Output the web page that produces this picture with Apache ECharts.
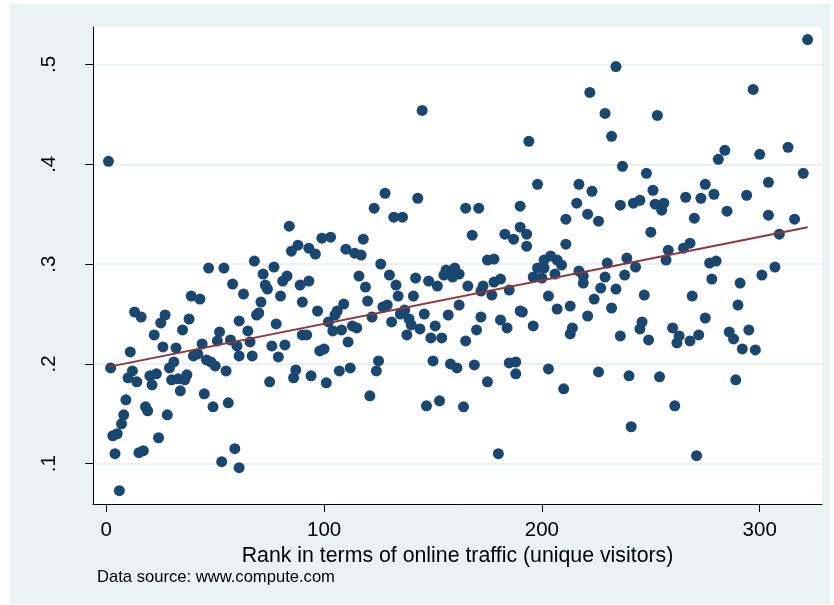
<!DOCTYPE html>
<html><head><meta charset="utf-8">
<script src="https://cdn.jsdelivr.net/npm/echarts@6/dist/echarts.min.js"></script>
<style>html,body{margin:0;padding:0;background:#fff}#c{width:834px;height:605px}</style>
</head><body><div id="c"></div>
<script>
const ranks = [1,2,3,4,5,6,7,8,9,10,11,12,13,14,15,16,17,18,19,20,21,22,23,24,25,26,27,28,29,30,31,32,33,34,35,36,37,38,39,40,42,43,44,45,46,47,48,49,50,51,52,53,54,55,56,57,58,59,60,61,61,61,63,65,66,67,68,69,70,71,72,73,74,75,76,77,78,79,80,81,82,83,84,85,86,87,88,89,90,90,92,93,93,94,96,97,98,99,100,101,102,103,104,105,106,107,108,109,110,111,112,113,114,115,116,117,118,119,120,121,122,123,124,125,126,127,128,129,130,131,132,133,134,135,136,137,138,139,140,141,142,143,144,145,146,147,148,149,150,151,152,153,154,155,156,157,158,159,160,161,162,162,164,165,165,166,168,169,170,171,172,172,173,175,175,177,178,178,180,181,181,183,184,185,185,187,188,188,190,190,190,191,193,193,194,196,196,198,198,200,201,201,203,203,204,206,207,207,209,210,211,211,213,213,214,216,217,217,219,219,221,221,222,223,224,226,226,227,229,229,230,232,232,234,234,236,236,237,238,239,240,241,242,243,245,245,246,247,248,249,250,251,252,253,255,254,256,257,258,260,261,262,263,265,266,268,268,269,270,271,272,273,275,275,277,278,279,280,281,284,285,286,288,289,290,291,292,294,295,297,298,300,301,304,304,307,309,313,316,320,322];
const shares = [.403,.196,.128,.110,.130,.073,.140,.149,.164,.186,.212,.193,.252,.182,.111,.247,.113,.157,.153,.188,.179,.229,.190,.126,.241,.217,.249,.149,.196,.184,.202,.216,.185,.173,.234,.184,.189,.245,.268,.208,.210,.265,.220,.170,.204,.296,.202,.157,.198,.223,.232,.102,.296,.193,.161,.224,.280,.115,.218,.243,.096,.208,.270,.233,.222,.208,.303,.249,.251,.262,.290,.279,.275,.182,.218,.297,.240,.207,.268,.283,.219,.288,.338,.313,.186,.194,.319,.279,.262,.229,.229,.283,.316,.188,.310,.253,.213,.326,.215,.181,.242,.327,.233,.249,.253,.193,.234,.260,.315,.222,.196,.238,.311,.236,.288,.309,.325,.277,.263,.168,.247,.356,.193,.203,.300,.257,.371,.259,.289,.242,.347,.279,.268,.250,.347,.254,.229,.245,.239,.268,.286,.366,.235,.454,.250,.158,.283,.226,.203,.238,.278,.163,.226,.289,.294,.249,.200,.287,.296,.196,.259,.290,.157,.356,.223,.278,.329,.199,.234,.356,.247,.273,.278,.182,.304,.269,.305,.282,.110,.244,.285,.330,.236,.201,.274,.325,.202,.190,.358,.337,.253,.252,.330,.318,.423,.238,.287,.296,.380,.286,.304,.296,.268,.195,.308,.290,.304,.255,.299,.175,.345,.320,.258,.230,.236,.361,.380,.293,.281,.288,.248,.350,.472,.373,.265,.343,.192,.276,.451,.287,.301,.256,.428,.275,.498,.228,.359,.398,.289,.306,.188,.137,.361,.297,.364,.235,.242,.269,.391,.224,.332,.374,.360,.449,.354,.187,.361,.304,.314,.236,.158,.221,.228,.316,.367,.321,.223,.268,.346,.108,.229,.366,.246,.380,.301,.285,.370,.303,.405,.414,.353,.232,.225,.184,.259,.281,.215,.369,.234,.475,.214,.410,.289,.382,.349,.297,.330,.417,.345,.391,.525];
const fitRanks = [1, 322];
const fitShares = [0.197, 0.337];
const xTicks = [0, 100, 200, 300];
const yTicks = [0.1, 0.2, 0.3, 0.4, 0.5];
const yTickLabels = ['.1', '.2', '.3', '.4', '.5'];
const xTitle = 'Rank in terms of online traffic (unique visitors)';
const note = 'Data source: www.compute.com';

const FONT = '"Liberation Sans", Arial, Helvetica, sans-serif';
const chart = echarts.init(document.getElementById('c'), null, {renderer: 'canvas'});
chart.setOption({
  animation: false,
  backgroundColor: '#ffffff',
  graphic: [
    {type: 'rect', z: -10, silent: true, shape: {x: 10, y: 4, width: 820, height: 600}, style: {fill: '#eaf2f3'}},
    {type: 'text', left: 97, top: 569, z: 10, style: {text: note, font: '16.6px ' + FONT, fill: '#000'}}
  ],
  grid: {left: 93, top: 27, right: 12, bottom: 101, show: true, backgroundColor: '#ffffff', borderWidth: 0},
  xAxis: {
    type: 'value', min: -6.1, max: 328.6,
    name: xTitle, nameLocation: 'middle', nameGap: 36,
    nameTextStyle: {fontSize: 21.3, color: '#000', fontFamily: FONT},
    axisLine: {show: true, onZero: false, lineStyle: {color: '#000', width: 1}},
    axisTick: {show: true, length: 8, customValues: xTicks, lineStyle: {color: '#000', width: 1}},
    axisLabel: {customValues: xTicks, fontSize: 20.5, color: '#000', fontFamily: FONT, margin: 16},
    splitLine: {show: false}
  },
  yAxis: {
    type: 'value', min: 0.0596, max: 0.5376,
    axisLine: {show: true, onZero: false, lineStyle: {color: '#000', width: 1}},
    axisTick: {show: true, length: 8, customValues: yTicks, lineStyle: {color: '#000', width: 1}},
    axisLabel: {customValues: yTicks, rotate: 90, fontSize: 20.5, color: '#000', fontFamily: FONT, margin: 33,
      formatter: v => { const i = yTicks.findIndex(t => Math.abs(t - v) < 1e-6); return i >= 0 ? yTickLabels[i] : ''; }},
    splitLine: {show: true, lineStyle: {color: '#eaf2f3', width: 2}}
  },
  series: [
    {type: 'scatter', data: ranks.map((r, i) => [r, shares[i]]), symbol: 'circle', symbolSize: 11,
     itemStyle: {color: '#1a476f', opacity: 1}, z: 2},
    {type: 'line', data: fitRanks.map((r, i) => [r, fitShares[i]]), symbol: 'none',
     lineStyle: {color: '#90353b', width: 2}, z: 3}
  ]
});
</script></body></html>
